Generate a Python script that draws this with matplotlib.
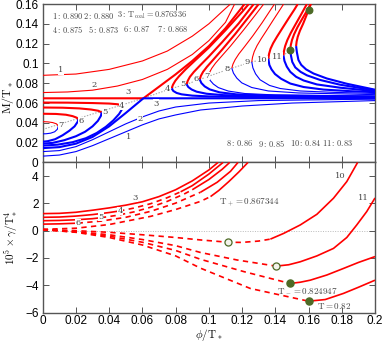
import matplotlib
matplotlib.use('Agg')
import matplotlib.pyplot as plt

plt.rcParams['mathtext.fontset'] = 'cm'

RED = '#ff0000'
BLUE = '#0000ff'
GREEN = '#4d6a26'
LBL = '#444444'

# ---------------- top panel data (phi/T*, M/T*) ----------------
c1_red = [(0, 0.088), (0.02, 0.0893), (0.04, 0.094), (0.06, 0.1025), (0.075, 0.1125), (0.09, 0.1275), (0.1, 0.14), (0.11, 0.1555), (0.113, 0.16)]
c1_blue = [(0, 0.0064), (0.01, 0.0075), (0.02, 0.011), (0.03, 0.017), (0.04, 0.024), (0.05, 0.031), (0.06, 0.038), (0.07, 0.044), (0.08, 0.048), (0.095, 0.053), (0.12, 0.057), (0.15, 0.06), (0.2, 0.0625)]
c2_red = [(0, 0.0706), (0.015, 0.0712), (0.03, 0.073), (0.045, 0.0772), (0.06, 0.0838), (0.075, 0.094), (0.09, 0.109), (0.1, 0.123), (0.11, 0.1415), (0.1155, 0.16)]
c2_blue = [(0, 0.011), (0.01, 0.012), (0.02, 0.016), (0.03, 0.023), (0.04, 0.031), (0.05, 0.039), (0.06, 0.046), (0.07, 0.052), (0.08, 0.056), (0.1, 0.06), (0.13, 0.0625), (0.2, 0.064)]
c3_red = [(0, 0.0648), (0.0606, 0.0648), (0.07, 0.0765), (0.08, 0.089), (0.09, 0.1025), (0.1, 0.1175), (0.11, 0.1355), (0.118, 0.1525), (0.1215, 0.16)]
c3_blue = [(0, 0.0145), (0.01, 0.0155), (0.02, 0.019), (0.03, 0.0258), (0.04, 0.0365), (0.05, 0.05), (0.0606, 0.0648), (0.2, 0.0648)]

# left loops (T below T_coal)
c4L_red = [(0, 0.0605), (0.015, 0.0604), (0.03, 0.06), (0.04, 0.0595), (0.045, 0.0588), (0.0485, 0.0575)]
c4L_blue = [(0.0485, 0.0575), (0.048, 0.0545), (0.046, 0.049), (0.0425, 0.0425), (0.038, 0.036), (0.0325, 0.0298), (0.026, 0.0245), (0.018, 0.0205), (0.009, 0.018), (0, 0.017)]
c5L_red = [(0, 0.0555), (0.012, 0.0553), (0.022, 0.0546), (0.029, 0.0535), (0.0335, 0.0522), (0.0355, 0.0505)]
c5L_blue = [(0.0355, 0.0505), (0.035, 0.047), (0.0332, 0.042), (0.03, 0.0365), (0.0255, 0.031), (0.02, 0.0265), (0.013, 0.0225), (0.006, 0.0198), (0, 0.019)]
c6L_red = [(0, 0.0492), (0.008, 0.049), (0.014, 0.0482), (0.018, 0.0468), (0.0205, 0.0452), (0.0215, 0.0435)]
c6L_blue = [(0.0215, 0.0435), (0.021, 0.041), (0.0192, 0.0365), (0.016, 0.032), (0.012, 0.0275), (0.0075, 0.0235), (0.003, 0.0215), (0, 0.021)]
c7L_red = [(0, 0.0412), (0.003, 0.041), (0.006, 0.0403), (0.0083, 0.039), (0.0094, 0.0368)]
c7L_blue = [(0.0094, 0.0368), (0.0088, 0.0335), (0.0072, 0.031), (0.0048, 0.0296), (0.002, 0.029), (0, 0.0289)]

# right branches
c4R_red = [(0.0776, 0.0748), (0.0784, 0.0785), (0.0798, 0.0825), (0.082, 0.087), (0.086, 0.094), (0.092, 0.1035), (0.1, 0.116), (0.11, 0.1335), (0.12, 0.152), (0.124, 0.16)]
c4R_blue = [(0.0776, 0.0748), (0.0786, 0.0722), (0.0806, 0.0702), (0.0836, 0.0688), (0.09, 0.0675), (0.1, 0.0667), (0.12, 0.0662), (0.2, 0.0658)]
c5R_red = [(0.0866, 0.079), (0.0873, 0.0825), (0.0886, 0.0865), (0.091, 0.0915), (0.095, 0.0985), (0.1, 0.107), (0.108, 0.1215), (0.118, 0.1405), (0.127, 0.16)]
c5R_blue = [(0.0866, 0.079), (0.0876, 0.0762), (0.0896, 0.0737), (0.0926, 0.0715), (0.0986, 0.0694), (0.1086, 0.068), (0.127, 0.0671), (0.2, 0.0662)]
c6R_red = [(0.0945, 0.0838), (0.0952, 0.0875), (0.0965, 0.0915), (0.0988, 0.0965), (0.1025, 0.1035), (0.108, 0.114), (0.116, 0.13), (0.124, 0.147), (0.13, 0.16)]
c6R_blue = [(0.0945, 0.0838), (0.0955, 0.0802), (0.0975, 0.0768), (0.1005, 0.0738), (0.1065, 0.0708), (0.1165, 0.0688), (0.135, 0.0677), (0.2, 0.0666)]
c7R_red = [(0.0997, 0.087), (0.1004, 0.0908), (0.1017, 0.095), (0.104, 0.1003), (0.1075, 0.107), (0.113, 0.1175), (0.121, 0.134), (0.128, 0.149), (0.133, 0.16)]
c7R_blue = [(0.0997, 0.087), (0.1007, 0.083), (0.1027, 0.0792), (0.1057, 0.0756), (0.1117, 0.0721), (0.1217, 0.0696), (0.14, 0.0682), (0.2, 0.067)]
c8_red = [(0.1138, 0.0952), (0.1145, 0.0993), (0.1158, 0.1038), (0.118, 0.1095), (0.1215, 0.117), (0.1265, 0.128), (0.132, 0.141), (0.1375, 0.155), (0.1395, 0.16)]
c8_blue = [(0.1138, 0.0952), (0.1148, 0.0902), (0.1168, 0.0852), (0.1198, 0.0804), (0.1258, 0.0757), (0.1358, 0.0722), (0.154, 0.0702), (0.2, 0.0685)]
c9_red = [(0.1258, 0.1016), (0.1263, 0.1065), (0.1273, 0.112), (0.129, 0.118), (0.1315, 0.125), (0.135, 0.134), (0.139, 0.1445), (0.1425, 0.1535), (0.145, 0.16)]
c9_blue = [(0.1258, 0.1016), (0.1265, 0.0955), (0.1281, 0.0895), (0.1308, 0.0835), (0.1365, 0.0778), (0.1429, 0.0747), (0.155, 0.0722), (0.175, 0.0708), (0.2, 0.0697)]
c10_red = [(0.1358, 0.1047), (0.1362, 0.1095), (0.1371, 0.1148), (0.1387, 0.1205), (0.141, 0.127), (0.1442, 0.1355), (0.148, 0.1455), (0.1515, 0.1545), (0.1535, 0.16)]
c10_blue = [(0.1358, 0.1047), (0.1364, 0.0985), (0.1377, 0.094), (0.1398, 0.0893), (0.1435, 0.0845), (0.149, 0.0797), (0.157, 0.0762), (0.169, 0.0736), (0.185, 0.072), (0.2, 0.071)]
c11_red = [(0.1449, 0.108), (0.1452, 0.1125), (0.1459, 0.1175), (0.1472, 0.1235), (0.1492, 0.1305), (0.152, 0.139), (0.1552, 0.1485), (0.158, 0.157), (0.159, 0.16)]
c11_blue = [(0.1449, 0.108), (0.1455, 0.1025), (0.1469, 0.0968), (0.149, 0.0915), (0.1525, 0.0865), (0.157, 0.0828), (0.165, 0.0788), (0.179, 0.0755), (0.2, 0.072)]
cTm_red = [(0.149, 0.114), (0.1493, 0.1185), (0.15, 0.1235), (0.1513, 0.1295), (0.1533, 0.1365), (0.156, 0.1445), (0.1588, 0.1525), (0.1612, 0.16)]
cTm_blue = [(0.149, 0.114), (0.1494, 0.108), (0.1502, 0.1015), (0.152, 0.096), (0.1552, 0.0915), (0.159, 0.088), (0.167, 0.0833), (0.179, 0.0785), (0.2, 0.0728)]
c082_red = [(0.1525, 0.1175), (0.1528, 0.122), (0.1535, 0.127), (0.1548, 0.133), (0.1567, 0.14), (0.1585, 0.1475), (0.16, 0.154), (0.1614, 0.16)]
c082_blue = [(0.1525, 0.1175), (0.153, 0.111), (0.1539, 0.1035), (0.1556, 0.0985), (0.1585, 0.094), (0.163, 0.0898), (0.171, 0.0848), (0.183, 0.0795), (0.2, 0.0735)]

tip_locus = [(0, 0.0334), (0.0606, 0.0648), (0.0776, 0.0748), (0.0866, 0.079), (0.0945, 0.0838), (0.0997, 0.087), (0.1138, 0.0952), (0.1258, 0.1016), (0.1358, 0.1047), (0.1449, 0.108), (0.149, 0.114)]
top_dots = [(0.149, 0.114), (0.16, 0.154)]

legend_rows = [
    [(0.0054, r'$\mathrm{1{:}\,0.890}$'), (0.0244, r'$\mathrm{2{:}\,0.880}$'), (0.0445, r'$\mathrm{3{:}\,T_{coal}{=}0.876336}$')],
    [(0.0054, r'$\mathrm{4{:}\,0.875}$'), (0.0271, r'$\mathrm{5{:}\,0.873}$'), (0.0485, r'$\mathrm{6{:}\,0.87}$'), (0.0686, r'$\mathrm{7{:}\,0.868}$')],
    [(0.1103, r'$\mathrm{8{:}\,0.86}$'), (0.1298, r'$\mathrm{9{:}\,0.85}$'), (0.1489, r'$\mathrm{10{:}\,0.84}$'), (0.168, r'$\mathrm{11{:}\,0.83}$')],
]
legend_y = [0.1482, 0.1344, 0.0192]

top_labels = [('1', 0.011, 0.093), ('1', 0.0515, 0.0254), ('2', 0.031, 0.078), ('2', 0.0586, 0.0443),
              ('3', 0.0511, 0.0712), ('3', 0.0682, 0.0595),
              ('7', 0.011, 0.0375), ('6', 0.023, 0.0415), ('5', 0.0375, 0.051), ('4', 0.0475, 0.0567),
              ('4', 0.0752, 0.0746), ('5', 0.0843, 0.079), ('6', 0.0923, 0.0838), ('7', 0.0987, 0.087),
              ('8', 0.111, 0.0939), ('9', 0.123, 0.1016), ('10', 0.132, 0.103), ('11', 0.141, 0.107)]

# ---------------- bottom panel data (phi/T*, 10^5 gamma/T*^4) ----------------
g3_solid = [(0, 1.25), (0.01, 1.27), (0.02, 1.35), (0.03, 1.5), (0.04, 1.67), (0.05, 1.87), (0.06, 2.12), (0.07, 2.5), (0.08, 3.0), (0.09, 3.65), (0.1, 4.45), (0.1055, 5.0)]
g4_solid = [(0, 0.98), (0.01, 1.0), (0.02, 1.07), (0.03, 1.18), (0.04, 1.33), (0.046, 1.44)]
g4_dash = [(0.046, 1.44), (0.055, 1.66), (0.065, 1.98), (0.075, 2.42), (0.083, 2.85)]
g4_solid2 = [(0.083, 2.85), (0.09, 3.3), (0.1, 4.15), (0.1085, 5.0)]
g5_solid = [(0, 0.73), (0.01, 0.75), (0.02, 0.8), (0.03, 0.88), (0.035, 0.95)]
g5_dash = [(0.035, 0.95), (0.045, 1.13), (0.055, 1.38), (0.065, 1.72), (0.075, 2.15), (0.085, 2.68), (0.09, 3.0)]
g5_solid2 = [(0.09, 3.0), (0.1, 3.75), (0.108, 4.5), (0.1125, 5.0)]
g6_solid = [(0, 0.48), (0.01, 0.5), (0.021, 0.55)]
g6_dash = [(0.021, 0.55), (0.035, 0.7), (0.05, 0.98), (0.065, 1.42), (0.08, 2.02), (0.095, 2.82)]
g6_solid2 = [(0.095, 2.82), (0.105, 3.55), (0.113, 4.35), (0.1175, 5.0)]
g7_dash = [(0, 0.1), (0.02, 0.18), (0.04, 0.45), (0.065, 1.05), (0.08, 1.55), (0.095, 2.15), (0.101, 2.5)]
g7_solid = [(0.101, 2.5), (0.106, 2.95), (0.112, 3.6), (0.118, 4.3), (0.1235, 5.0)]
gA_dash = [(0, 0.08), (0.02, 0.0), (0.04, -0.12), (0.06, -0.3), (0.08, -0.5), (0.095, -0.68), (0.1118, -0.85), (0.12, -0.86), (0.13, -0.76), (0.137, -0.62)]
gA_solid = [(0.137, -0.62), (0.145, -0.2), (0.155, 0.42), (0.165, 1.2), (0.175, 2.38), (0.183, 3.6), (0.1895, 5.0)]
gB_dash = [(0, 0.08), (0.02, -0.07), (0.04, -0.3), (0.06, -0.65), (0.08, -1.1), (0.095, -1.6), (0.117, -2.15), (0.1404, -2.6)]
gB_solid = [(0.1404, -2.6), (0.148, -2.5), (0.155, -2.28), (0.165, -1.85), (0.175, -1.3), (0.183, -0.5), (0.189, 0.42), (0.195, 1.4), (0.2, 2.4)]
gC_dash = [(0, 0.08), (0.02, -0.1), (0.04, -0.4), (0.06, -0.85), (0.08, -1.45), (0.095, -2.1), (0.121, -3.0), (0.1489, -3.87)]
gC_solid = [(0.1489, -3.87), (0.155, -3.78), (0.161, -3.63), (0.171, -3.25), (0.181, -2.77), (0.19, -2.33), (0.2, -1.9)]
gD_dash = [(0, 0.08), (0.02, -0.12), (0.04, -0.5), (0.06, -1.05), (0.08, -1.85), (0.095, -2.75), (0.125, -4.24), (0.16, -5.17)]
gD_solid = [(0.16, -5.17), (0.17, -5.05), (0.181, -4.6), (0.19, -4.15), (0.2, -3.63)]

open_pts = [(0.1118, -0.85), (0.1404, -2.6)]
filled_pts = [(0.1489, -3.87), (0.16, -5.17)]

bot_labels = [('3', 0.0556, 2.4), ('4', 0.0465, 1.43), ('5', 0.0351, 1.03), ('6', 0.0214, 0.54),
              ('10', 0.179, 4.0), ('11', 0.193, 2.43)]
bot_texts = [(0.106, 2.0, r'$\mathrm{T_+{=}0.867344}$'), (0.141, -4.4, r'$\mathrm{T_-{=}0.824947}$'),
             (0.165, -5.55, r'$\mathrm{T{=}0.82}$')]

THICK = 1.5
THIN = 0.8


def line(ax, pts, color, lw, ls='-'):
    xs = [p[0] for p in pts]
    ys = [p[1] for p in pts]
    if ls == '-':
        ax.plot(xs, ys, color=color, lw=lw, solid_capstyle='butt', zorder=3)
    elif ls == ':':
        ax.plot(xs, ys, color=color, lw=lw, ls=(0, (1.3, 1.3)), zorder=2)
    else:
        ax.plot(xs, ys, color=color, lw=lw, ls=(0, (3.2, 2.6)), dash_capstyle='butt', zorder=3)


fig = plt.figure(figsize=(3.83, 3.43), dpi=100)
ax1 = fig.add_axes([0.1115, 0.5263, 0.8677, 0.4620])
ax2 = fig.add_axes([0.1115, 0.0889, 0.8677, 0.4374])

# top panel
line(ax1, tip_locus, '#aaaaaa', 0.8, ':')
for pts, lw in [(c1_red, THIN), (c2_red, THIN), (c3_red, THICK), (c4L_red, THICK), (c5L_red, THICK),
                (c6L_red, THICK), (c7L_red, THIN), (c4R_red, THICK), (c5R_red, THICK), (c6R_red, THICK),
                (c7R_red, THIN), (c8_red, THIN), (c9_red, THIN), (c10_red, THICK), (c11_red, THICK),
                (cTm_red, THICK), (c082_red, THICK)]:
    line(ax1, pts, RED, lw)
for pts, lw in [(c1_blue, THIN), (c2_blue, THIN), (c3_blue, THICK), (c4L_blue, THICK), (c5L_blue, THICK),
                (c6L_blue, THICK), (c7L_blue, THIN), (c4R_blue, THICK), (c5R_blue, THICK), (c6R_blue, THICK),
                (c7R_blue, THIN), (c8_blue, THIN), (c9_blue, THIN), (c10_blue, THICK), (c11_blue, THICK),
                (cTm_blue, THICK), (c082_blue, THICK)]:
    line(ax1, pts, BLUE, lw)
ax1.scatter([p[0] for p in top_dots], [p[1] for p in top_dots], s=22, color=GREEN, zorder=5)
for t, x, y in top_labels:
    ax1.text(x, y, t, fontsize=6, color=LBL, ha='center', va='center', zorder=6,
             family='DejaVu Serif', bbox=dict(facecolor='white', edgecolor='none', pad=0.1))
for row, yv in zip(legend_rows, legend_y):
    for x, t in row:
        ax1.text(x, yv, t, fontsize=6, color=LBL, ha='left', va='center', zorder=6)

ax1.set_xlim(0, 0.2)
ax1.set_ylim(0, 0.16)
ax1.set_xticks([0, 0.02, 0.04, 0.06, 0.08, 0.1, 0.12, 0.14, 0.16, 0.18, 0.2])
ax1.set_xticklabels([])
ax1.set_yticks([0, 0.02, 0.04, 0.06, 0.08, 0.1, 0.12, 0.14, 0.16])
ax1.set_yticklabels(['0', '0.02', '0.04', '0.06', '0.08', '0.1', '0.12', '0.14', '0.16'])
ax1.set_ylabel(r'$\mathrm{M/T_*}$', fontsize=8.5)
ax1.yaxis.set_label_coords(-0.103, 0.41)
ax1.yaxis.label.set_va('center')

# bottom panel
ax2.axhline(0, color='#bbbbbb', lw=0.7, ls=(0, (1, 1.5)), zorder=1)
for pts in [g3_solid, g4_solid, g4_solid2, g5_solid, g5_solid2, g6_solid, g6_solid2, g7_solid,
            gA_solid, gB_solid, gC_solid, gD_solid]:
    line(ax2, pts, RED, 1.2)
for pts in [g4_dash, g5_dash, g6_dash, g7_dash, gA_dash, gB_dash, gC_dash, gD_dash]:
    line(ax2, pts, RED, 1.2, '--')
ax2.scatter([p[0] for p in open_pts], [p[1] for p in open_pts], s=26, facecolor='#f4f4ec',
            edgecolor=GREEN, linewidth=0.9, zorder=5)
ax2.scatter([p[0] for p in filled_pts], [p[1] for p in filled_pts], s=26, color=GREEN, zorder=5)
for t, x, y in bot_labels:
    ax2.text(x, y, t, fontsize=6, color=LBL, ha='center', va='center', zorder=6, family='DejaVu Serif',
             bbox=dict(facecolor='white', edgecolor='none', pad=0.1))
for x, y, t in bot_texts:
    ax2.text(x, y, t, fontsize=6.5, color=LBL, ha='left', va='center', zorder=6)

ax2.set_xlim(0, 0.2)
ax2.set_ylim(-6, 5)
ax2.set_xticks([0, 0.02, 0.04, 0.06, 0.08, 0.1, 0.12, 0.14, 0.16, 0.18, 0.2])
ax2.set_xticklabels(['0', '0.02', '0.04', '0.06', '0.08', '0.1', '0.12', '0.14', '0.16', '0.18', '0.2'])
ax2.set_yticks([-6, -4, -2, 0, 2, 4])
ax2.set_ylabel(r'$\mathrm{10^5\times}\gamma\mathrm{/T_*^4}$', fontsize=8)
ax2.yaxis.set_label_coords(-0.093, 0.5)
ax2.yaxis.label.set_va('center')
ax2.set_xlabel(r'$\phi\mathrm{/T_*}$', fontsize=8)
ax2.xaxis.set_label_coords(0.5, -0.203)
ax2.xaxis.label.set_va('bottom')

for ax in (ax1, ax2):
    ax.tick_params(direction='in', top=True, right=True, length=4, width=0.7, color='#555555',
                   labelsize=8.5, pad=3)
    for lab in ax.get_xticklabels() + ax.get_yticklabels():
        lab.set_family('Liberation Sans')
    for s in ax.spines.values():
        s.set_color('#555555')
        s.set_linewidth(1.0)
ax2.tick_params(axis='x', pad=2)

fig.savefig('out.png', dpi=100)
